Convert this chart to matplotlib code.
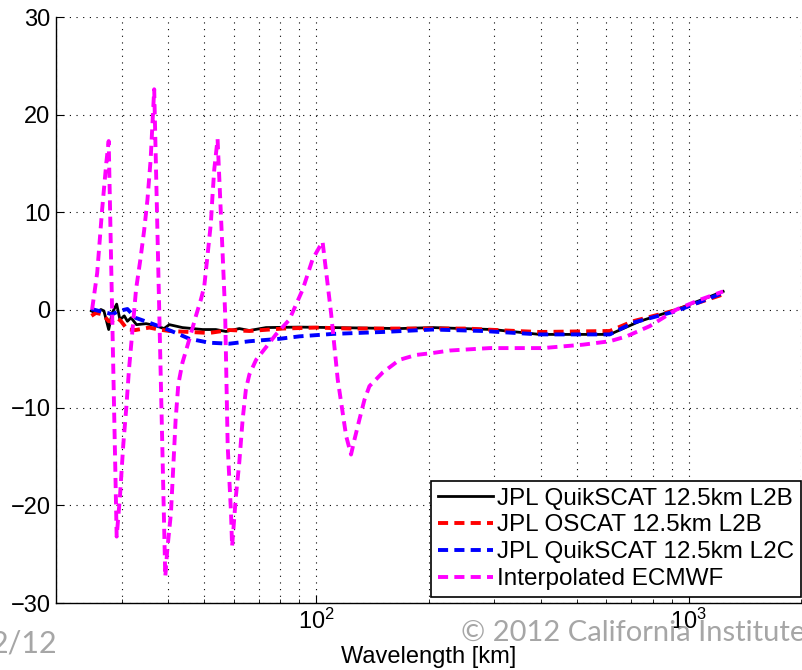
import matplotlib.pyplot as plt

# wavelength [km] and slope values
wl_qs_l2b = [24.9, 25.6, 26.4, 26.9, 27.7, 28.3, 29.1, 29.7, 30.5, 31.1, 31.8, 32.9,
             34.9, 37.0, 39.0, 40.3, 43.7, 49.5, 53.7, 57.2, 62.1, 66.1, 73.3, 90.0,
             167.2, 205.5, 297.3, 344.3, 397.5, 613.3, 738.5, 926.4, 1236]
sl_qs_l2b = [-0.1, -0.3, 0.05, -0.1, -2.0, -0.3, 0.6, -1.0, -0.6, -1.15, -0.8, -1.5,
             -1.4, -1.6, -1.9, -1.5, -1.8, -2.0, -2.0, -2.2, -1.9, -2.1, -1.8, -1.75,
             -1.9, -1.8, -2.0, -2.25, -2.5, -2.5, -1.15, 0.05, 1.9]

wl_os_l2b = [24.9, 25.6, 26.7, 27.7, 28.3, 29.2, 29.9, 31.1, 32.7, 35.6, 37.8, 40.3,
             45.6, 51.6, 58.4, 66.1, 81.2, 99.8, 122.7, 167.2, 252.7, 344.3, 397.5,
             613.3, 708.0, 926.4, 1236]
sl_os_l2b = [-0.6, -0.3, -0.45, -1.15, -1.15, -0.8, -1.15, -2.0, -2.05, -1.8, -2.0, -2.15,
             -2.25, -2.35, -2.05, -2.15, -1.9, -1.8, -1.9, -1.9, -1.9, -2.15, -2.25,
             -2.15, -1.15, 0.0, 1.6]

wl_qs_l2c = [24.9, 26.1, 27.5, 28.3, 29.5, 31.1, 32.7, 35.6, 38.7, 42.0, 45.6, 51.6,
             58.4, 66.1, 79.6, 90.0, 110.6, 150.7, 205.5, 280.1, 397.5, 613.3, 708.0,
             926.4, 1236]
sl_qs_l2c = [0.1, -0.1, -0.3, -0.45, -0.1, 0.1, -0.8, -1.3, -1.8, -2.35, -2.95, -3.35,
             -3.45, -3.2, -2.95, -2.7, -2.45, -2.25, -2.0, -2.15, -2.5, -2.5, -1.3,
             -0.1, 1.75]

wl_ecmwf = [25.0, 25.8, 26.6, 27.3, 27.7, 29.1, 29.7, 30.3, 30.9, 31.4, 32.1, 32.8,
            33.7, 34.5, 35.2, 35.9, 36.7, 39.3, 39.8, 40.7, 41.3, 41.9, 42.6, 43.7,
            45.6, 47.5, 49.0, 50.0, 51.0, 52.1, 52.6, 53.2, 54.3, 56.0, 56.9, 57.8,
            59.0, 59.4, 60.8, 62.1, 63.4, 64.7, 66.1, 68.9, 73.3, 77.9, 84.6, 91.9,
            97.7, 103.9, 109.5, 114.1, 120.2, 123.9, 126.5, 130.5, 134.6, 138.8, 150.7,
            167.2, 185.3, 205.5, 227.8, 291.8, 405.6, 519.6, 613.3, 680.3, 785.3,
            926.4, 1071, 1236]
sl_ecmwf = [0.05, 3.8, 10.3, 15.1, 17.3, -23.2, -19.1, -13.9, -9.9, -6.1, -2.0, 2.1,
            5.2, 8.2, 11.3, 15.4, 22.6, -27.3, -24.5, -20.8, -16.0, -11.2, -7.6, -5.4,
            -3.0, -0.6, 1.1, 2.4, 5.5, 8.9, 11.6, 14.4, 17.5, 5.9, -0.3, -13.9,
            -20.8, -24.2, -19.1, -15.6, -11.2, -8.1, -6.6, -5.1, -3.8, -2.5, -1.0, 2.1,
            5.2, 7.0, -0.3, -7.1, -12.9, -14.8, -13.3, -11.2, -9.2, -7.8, -6.4,
            -5.1, -4.6, -4.4, -4.15, -3.9, -3.9, -3.55, -3.2, -2.7, -1.65,
            0.05, 1.05, 1.9]

labels = ['JPL QuikSCAT 12.5km L2B', 'JPL OSCAT 12.5km L2B',
          'JPL QuikSCAT 12.5km L2C', 'Interpolated ECMWF']

plt.rcParams['font.family'] = ['Liberation Sans', 'DejaVu Sans']

fig = plt.figure(figsize=(8.02, 6.70), dpi=100)
ax = fig.add_axes([56/802, 67/670, 745/802, 586/670])

dash = (0, (2.6, 1.6))
ax.plot(wl_qs_l2b, sl_qs_l2b, color='k', lw=2.0, label=labels[0])
ax.plot(wl_os_l2b, sl_os_l2b, color='r', lw=2.8, ls=dash, label=labels[1])
ax.plot(wl_qs_l2c, sl_qs_l2c, color='b', lw=2.8, ls=dash, label=labels[2])
ax.plot(wl_ecmwf, sl_ecmwf, color='#ff00ff', lw=2.8, ls=dash, label=labels[3])

ax.set_xscale('log')
ax.set_xlim(20, 2000)
ax.set_ylim(-30, 30)
ax.set_yticks(range(-30, 31, 10))

ax.set_axisbelow(True)
grid_ls = (0, (1, 5))
ax.grid(True, which='both', axis='x', color='k', ls=grid_ls, lw=0.8)
ax.grid(True, which='major', axis='y', color='k', ls=grid_ls, lw=0.8)

for s in ['top', 'right']:
    ax.spines[s].set_visible(False)
for s in ['left', 'bottom']:
    ax.spines[s].set_linewidth(1.0)

ax.tick_params(which='both', direction='in', labelsize=17, top=False, right=False)
ax.tick_params(which='major', length=6, pad=4)
ax.tick_params(which='minor', length=3)
ax.tick_params(axis='y', which='minor', left=False)

ax.set_xlabel('Wavelength [km]', fontsize=17, labelpad=9)

leg = ax.legend(loc='lower right', bbox_to_anchor=(1.0, 6/586), borderaxespad=0,
                fontsize=17.5, handlelength=2.3, handletextpad=0.15, labelspacing=0.2,
                borderpad=0.28, fancybox=False, edgecolor='k', framealpha=1)
leg.get_frame().set_linewidth(1.2)

fig.text(57/802, 1 - 653/670, '2/12', ha='right', va='baseline',
         fontsize=22, color='#a6a6a6', family='Lato')
fig.text(461/802, 1 - 641/670, '\u00a9 2012 California Institute', ha='left',
         va='baseline', fontsize=21, color='#a6a6a6', family='Lato')

plt.savefig('out.png', dpi=100)
